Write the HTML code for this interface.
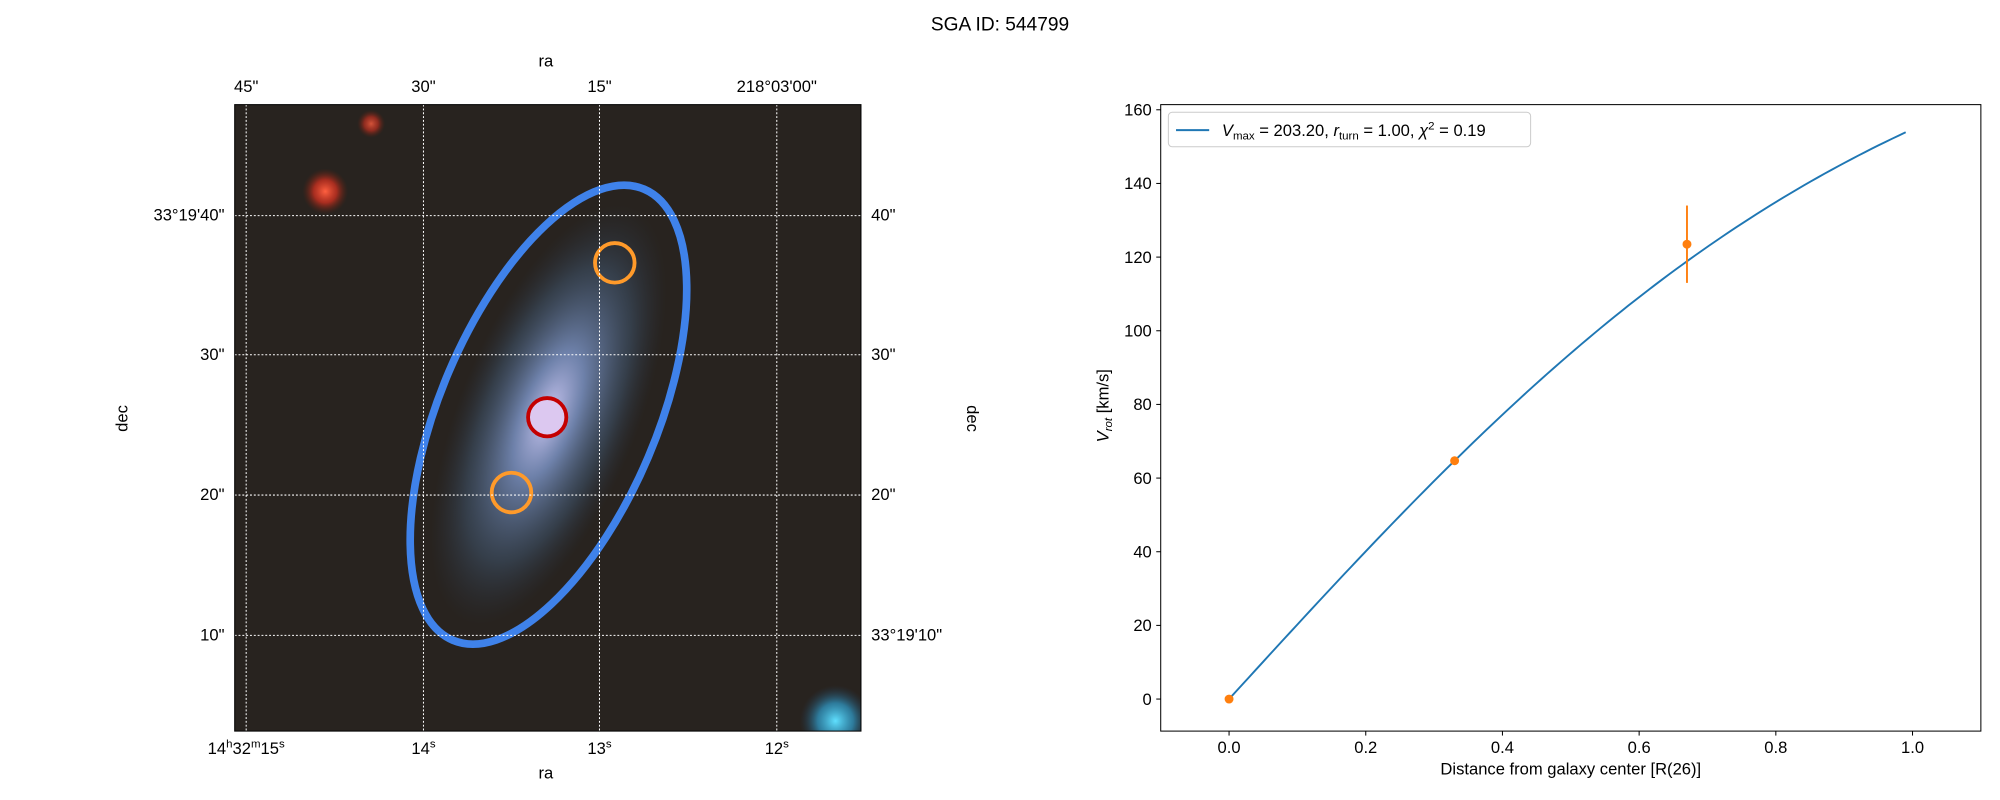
<!DOCTYPE html>
<html><head><meta charset="utf-8">
<style>
html,body{margin:0;padding:0;background:#fff;}
svg{display:block;font-family:"Liberation Sans","DejaVu Sans",sans-serif;}
</style></head>
<body>
<svg id="fig" width="2000" height="800" viewBox="0 0 1568 627" preserveAspectRatio="none" xmlns="http://www.w3.org/2000/svg">
<defs>
  <clipPath id="imgclip"><rect x="184" y="82" width="491" height="491"/></clipPath>
  <radialGradient id="gal" cx="0.5" cy="0.5" r="0.5">
    <stop offset="0" stop-color="#c8c4ee" stop-opacity="1"/>
    <stop offset="0.3" stop-color="#7f98cc" stop-opacity="0.8"/>
    <stop offset="0.7" stop-color="#45607f" stop-opacity="0.45"/>
    <stop offset="1" stop-color="#2a3a50" stop-opacity="0"/>
  </radialGradient>
  <radialGradient id="star" cx="0.5" cy="0.5" r="0.5">
    <stop offset="0" stop-color="#ff6040"/>
    <stop offset="0.5" stop-color="#c83020" stop-opacity="0.8"/>
    <stop offset="1" stop-color="#602010" stop-opacity="0"/>
  </radialGradient>
  <radialGradient id="cyan" cx="0.5" cy="0.5" r="0.5">
    <stop offset="0" stop-color="#60e0ff"/>
    <stop offset="0.5" stop-color="#30a0d0" stop-opacity="0.7"/>
    <stop offset="1" stop-color="#204060" stop-opacity="0"/>
  </radialGradient>
</defs>
<text x="784" y="24" font-size="15" text-anchor="middle">SGA ID: 544799</text>

<g>
  <g clip-path="url(#imgclip)">
    <rect x="184" y="82" width="491" height="491" fill="#28231f"/>
    <ellipse cx="430" cy="325" rx="70" ry="175" transform="rotate(22 430 325)" fill="url(#gal)"/>
    <circle cx="255" cy="150" r="18" fill="url(#star)"/>
    <circle cx="291" cy="97" r="11" fill="url(#star)" opacity="0.8"/>
    <circle cx="655" cy="565" r="28" fill="url(#cyan)"/>
    <ellipse cx="430" cy="325" rx="85" ry="192" transform="rotate(23 430 325)" fill="none" stroke="#3f82ea" stroke-width="6"/>
    <circle cx="482" cy="206" r="15.5" fill="none" stroke="#ff9a2a" stroke-width="3"/>
    <circle cx="401" cy="386" r="15.5" fill="none" stroke="#ff9a2a" stroke-width="3"/>
    <circle cx="429" cy="327" r="15" fill="#dcc8f0" stroke="#c40000" stroke-width="3"/>
    <g stroke="#ffffff" stroke-width="0.8" stroke-dasharray="1.5,1.5">
      <line x1="193" y1="82" x2="193" y2="573"/><line x1="332" y1="82" x2="332" y2="573"/>
      <line x1="470" y1="82" x2="470" y2="573"/><line x1="609" y1="82" x2="609" y2="573"/>
      <line x1="184" y1="169" x2="675" y2="169"/><line x1="184" y1="278" x2="675" y2="278"/>
      <line x1="184" y1="388" x2="675" y2="388"/><line x1="184" y1="498" x2="675" y2="498"/>
    </g>
  </g>
  <rect x="184" y="82" width="491" height="491" fill="none" stroke="#000" stroke-width="0.8"/>
  <g font-size="13" fill="#000">
    <g text-anchor="middle">
      <text x="193" y="72">45"</text><text x="332" y="72">30"</text><text x="470" y="72">15"</text><text x="609" y="72">218°03'00"</text>
    </g>
    <text x="428" y="52" text-anchor="middle">ra</text>
    <g text-anchor="middle">
      <text x="193" y="591">14<tspan font-size="9" dy="-5">h</tspan><tspan dy="5">32</tspan><tspan font-size="9" dy="-5">m</tspan><tspan dy="5">15</tspan><tspan font-size="9" dy="-5">s</tspan></text>
      <text x="332" y="591">14<tspan font-size="9" dy="-5">s</tspan></text>
      <text x="470" y="591">13<tspan font-size="9" dy="-5">s</tspan></text>
      <text x="609" y="591">12<tspan font-size="9" dy="-5">s</tspan></text>
    </g>
    <text x="428" y="610" text-anchor="middle">ra</text>
    <g text-anchor="end">
      <text x="176" y="173">33°19'40"</text><text x="176" y="282">30"</text><text x="176" y="392">20"</text><text x="176" y="502">10"</text>
    </g>
    <g text-anchor="start">
      <text x="683" y="173">40"</text><text x="683" y="282">30"</text><text x="683" y="392">20"</text><text x="683" y="502">33°19'10"</text>
    </g>
    <text transform="translate(100 328) rotate(-90)" text-anchor="middle">dec</text>
    <text transform="translate(758 328) rotate(90)" text-anchor="middle">dec</text>
  </g>
</g>

<g id="rc"></g>
</svg>
<script>
const xTicks = [0.0, 0.2, 0.4, 0.6, 0.8, 1.0];
const xTickLabels = ["0.0", "0.2", "0.4", "0.6", "0.8", "1.0"];
const yTicks = [0, 20, 40, 60, 80, 100, 120, 140, 160];
const yTickLabels = ["0", "20", "40", "60", "80", "100", "120", "140", "160"];
const pointR = [0.0, 0.33, 0.67];
const pointV = [0.0, 64.7, 123.5];
const pointErr = [0.0, 0.0, 10.5];
const fitParams = [203.2, 1.0];
const fitRange = [0.0, 0.99];

const NS = "http://www.w3.org/2000/svg";
const L = 910, R = 1553, T = 82, B = 573;
const xmin = -0.1, xmax = 1.1, ymin = -8.7, ymax = 161.4;
function sx(v){ return L + (v - xmin) / (xmax - xmin) * (R - L); }
function sy(v){ return B - (v - ymin) / (ymax - ymin) * (B - T); }
const g = document.getElementById('rc');
function mk(tag, attrs, parent){
  const e = document.createElementNS(NS, tag);
  for (const k in attrs) e.setAttribute(k, attrs[k]);
  (parent || g).appendChild(e);
  return e;
}
const frame = mk('rect', {x:L, y:T, width:R-L, height:B-T, fill:'#fff', stroke:'#000', 'stroke-width':0.8});



xTicks.forEach((v, i) => {
  mk('line', {x1:sx(v), x2:sx(v), y1:B, y2:B+3.5, stroke:'#000', 'stroke-width':0.8});
  const t = mk('text', {x:sx(v), y:B+17, 'font-size':13, 'text-anchor':'middle'});
  t.textContent = xTickLabels[i];
  
  
});
yTicks.forEach((v, i) => {
  mk('line', {x1:L-3.5, x2:L, y1:sy(v), y2:sy(v), stroke:'#000', 'stroke-width':0.8});
  const t = mk('text', {x:L-7, y:sy(v)+4.5, 'font-size':13, 'text-anchor':'end'});
  t.textContent = yTickLabels[i];
  
  
});
const xl = mk('text', {x:(L+R)/2, y:607, 'font-size':13, 'text-anchor':'middle'});
xl.textContent = 'Distance from galaxy center [R(26)]';


const yl = mk('text', {transform:'translate(869 318) rotate(-90)', 'font-size':13, 'text-anchor':'middle'});
yl.innerHTML = '<tspan font-style="italic">V</tspan><tspan font-size="9" font-style="italic" dy="3">rot</tspan><tspan dy="-3"> [km/s]</tspan>';



let d = '';
const N = 100;
for (let i = 0; i <= N; i++) {
  const r = fitRange[0] + (fitRange[1] - fitRange[0]) * i / N;
  const v = fitParams[0] * Math.tanh(r / fitParams[1]);
  d += (i ? 'L' : 'M') + sx(r).toFixed(2) + ' ' + sy(v).toFixed(2);
}
const curve = mk('path', {d:d, fill:'none', stroke:'#1f77b4', 'stroke-width':1.5});



pointR.forEach((r, i) => {
  if (pointErr[i] > 0) {
    const eb = mk('line', {x1:sx(r), x2:sx(r), y1:sy(pointV[i]-pointErr[i]), y2:sy(pointV[i]+pointErr[i]), stroke:'#ff7f0e', 'stroke-width':1.5});
    
    
  }
  const c = mk('circle', {cx:sx(r), cy:sy(pointV[i]), r:3.5, fill:'#ff7f0e'});
  
  
});

const lg = mk('g', {});


mk('rect', {x:916, y:88, width:284, height:27, rx:3, fill:'#fff', stroke:'#ccc', 'stroke-width':0.8}, lg);
mk('line', {x1:922, x2:948, y1:102, y2:102, stroke:'#1f77b4', 'stroke-width':1.5}, lg);
const lt = mk('text', {x:958, y:106.5, 'font-size':13}, lg);
lt.innerHTML = '<tspan font-style="italic">V</tspan><tspan font-size="9" dy="3">max</tspan><tspan dy="-3"> = 203.20, </tspan><tspan font-style="italic">r</tspan><tspan font-size="9" dy="3">turn</tspan><tspan dy="-3"> = 1.00, </tspan><tspan font-style="italic">χ</tspan><tspan font-size="9" dy="-5">2</tspan><tspan dy="5"> = 0.19</tspan>';


</script>
</body></html>
